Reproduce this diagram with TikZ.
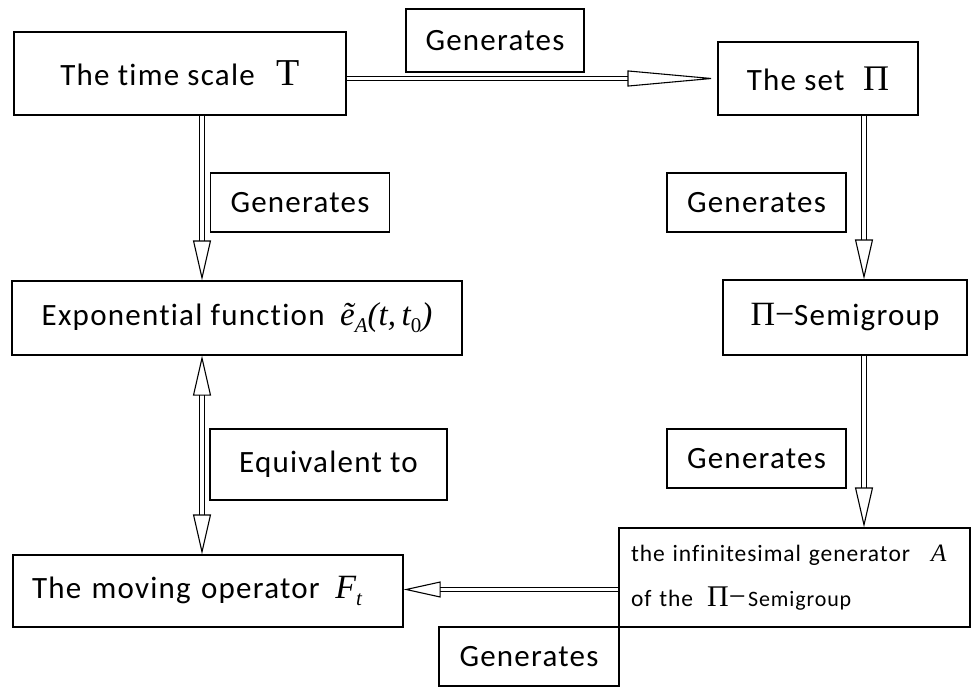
\documentclass[tikz,border=0pt]{standalone}
\usepackage{fontspec}
\setmainfont{Carlito}[Ligatures=NoCommon, LetterSpace=4]
\newfontfamily\tmsfont{Liberation Serif}
\usetikzlibrary{arrows.meta}
\newcommand{\lowsub}[1]{\raisebox{-0.45ex}{\fontsize{21}{24}\selectfont #1}}

\begin{document}
\begin{tikzpicture}[
    x=1pt, y=-1pt,
    every node/.style={font=\fontsize{31}{36}\selectfont},
    box/.style={draw, line width=1.2pt, inner sep=0pt, align=center},
    lbl/.style={box, minimum width=179pt, minimum height=59pt},
    arrow/.style={double, double distance=3.5pt, line width=1.1pt, -{Triangle[open, length=40pt, width=18pt]}}
]
\useasboundingbox (0,0) rectangle (971,688);

\node[box, minimum width=332pt, minimum height=83pt] (tscale) at (180,73.5)
  {The time scale\hspace{0.7em}{\tmsfont\fontsize{38}{40}\selectfont T}};
\node[box, minimum width=200pt, minimum height=73pt] (set) at (818,78.5)
  {The set\hspace{0.6em}{\tmsfont\fontsize{36}{40}\selectfont Π}};
\node[box, minimum width=244pt, minimum height=75pt] (semi) at (845,317.5)
  {{\tmsfont\fontsize{34}{40}\selectfont Π−}Semigroup};
\node[box, minimum width=351pt, minimum height=99pt, text width=327pt, inner xsep=12pt,
      align=left, font=\fontsize{23.5}{45}\selectfont] (infgen) at (794.5,577.5)
  {the infinitesimal generator\hspace{0.9em}{\tmsfont\itshape\fontsize{25}{30}\selectfont A}\\
   of the\hspace{0.6em}{\tmsfont\fontsize{30}{40}\selectfont Π−}\hspace{0.1em}{\fontsize{22}{26}\selectfont Semigroup}};
\node[box, minimum width=450pt, minimum height=74pt] (expf) at (237,318)
  {Exponential function\hspace{0.5em}{\tmsfont\itshape\fontsize{33}{40}\selectfont
   ẽ\lowsub{A}(t,\,t\lowsub{\upshape 0})}};
\node[box, minimum width=390pt, minimum height=72pt, text width=352pt, inner xsep=19pt,
      align=left] (moving) at (208,591)
  {The moving operator\hspace{0.5em}{\tmsfont\itshape\fontsize{34}{40}\selectfont F\lowsub{t}}};

% labels
\node[lbl, minimum width=178pt, minimum height=63pt] (gentop) at (495,40.5) {Generates};
\node[lbl] (genleft) at (300,202.5) {Generates};
\node[lbl] (genright) at (756.5,202.5) {Generates};
\node[lbl] (genmid) at (756.5,458.5) {Generates};
\node[lbl, minimum width=180pt] (genbot) at (529,656.5) {Generates};
\node[lbl, minimum width=237pt, minimum height=71pt] (equiv) at (328.5,464.5) {Equivalent to};

% connectors
\draw[arrow, -{Triangle[open, length=90pt, width=16pt]}] (tscale.east |- set.west) -- (set.west);
\draw[arrow] ([xshift=22pt]tscale.south) -- ([xshift=22pt]tscale.south |- expf.north);
\draw[arrow] ([xshift=46pt]set.south) -- ([xshift=46pt]set.south |- semi.north);
\draw[arrow] ([xshift=19pt]semi.south) -- ([xshift=19pt]semi.south |- infgen.north);
\draw[arrow, -{Triangle[open, length=37pt, width=16pt]}] ([yshift=-12pt]infgen.west) -- ([yshift=-12pt]infgen.west -| moving.east);
\draw[arrow, {Triangle[open, length=40pt, width=18pt]}-{Triangle[open, length=40pt, width=18pt]}]
  ([xshift=-35pt]expf.south) -- ([xshift=-35pt]expf.south |- moving.north);
\end{tikzpicture}
\end{document}
